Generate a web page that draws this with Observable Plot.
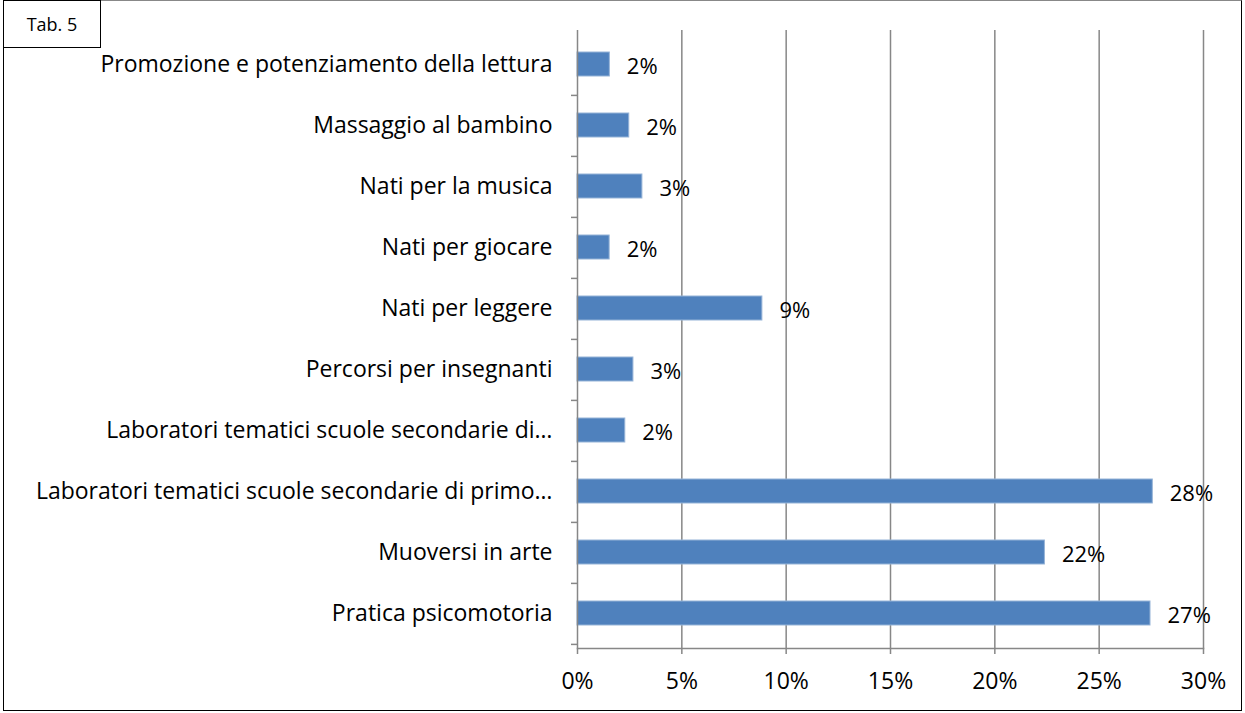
<!DOCTYPE html>
<html><head><meta charset="utf-8">
<script src="https://cdn.jsdelivr.net/npm/d3@7"></script>
<script src="https://cdn.jsdelivr.net/npm/@observablehq/plot@0.6"></script>
<style>
body{margin:0;background:#fff;}
#wrap{position:relative;width:1245px;height:713px;overflow:hidden;font-family:"Open Sans",sans-serif;}
#wrap svg{position:absolute;left:0;top:0;}
#border{position:absolute;left:3px;top:0;width:1237px;height:709px;border:1.5px solid #000;border-top-color:#888;}
#tab{position:absolute;left:3px;top:0;width:96px;height:46px;border:1.5px solid #000;font-size:18px;line-height:46px;text-align:center;background:#fff;}
</style></head>
<body>
<div id="wrap"><div id="border"></div><div id="chart"></div><div id="tab">Tab. 5</div></div>
<script>
const categories = [
  "Promozione e potenziamento della lettura",
  "Massaggio al bambino",
  "Nati per la musica",
  "Nati per giocare",
  "Nati per leggere",
  "Percorsi per insegnanti",
  "Laboratori tematici scuole secondarie di…",
  "Laboratori tematici scuole secondarie di primo…",
  "Muoversi in arte",
  "Pratica psicomotoria"
];
const values = [1.55, 2.48, 3.11, 1.54, 8.86, 2.68, 2.29, 27.57, 22.4, 27.46];
const valueLabels = ["2%", "2%", "3%", "2%", "9%", "3%", "2%", "28%", "22%", "27%"];
const xTicks = [0, 5, 10, 15, 20, 25, 30];

const data = categories.map((c, i) => ({category: c, value: values[i], label: valueLabels[i]}));
const grey = "#878787";
const step = (713 - 30 - 65) / categories.length;
const font = "'Open Sans', sans-serif";

const chart = Plot.plot({
  width: 1245, height: 713,
  marginLeft: 577, marginRight: 42, marginTop: 30, marginBottom: 65,
  style: {fontFamily: font, fontSize: "22px", color: "#000", background: "transparent"},
  x: {domain: [0, 30], label: null},
  y: {domain: categories, paddingInner: 0.6, paddingOuter: 0.3, label: null},
  marks: [
    Plot.gridX(xTicks.slice(1), {stroke: grey, strokeOpacity: 1, strokeWidth: 1.5}),
    Plot.barX(data, {x: "value", y: "category", fill: "#4f81bd", stroke: "#95b3d7", strokeWidth: 1}),
    Plot.text(data, {x: "value", y: "category", text: "label", textAnchor: "start", dx: 17, dy: 2, fontSize: 22, fill: "#000"}),
    Plot.ruleX([0], {stroke: grey, strokeWidth: 1.5}),
    Plot.frame({anchor: "bottom", stroke: grey, strokeWidth: 1.5}),
    Plot.axisX({ticks: xTicks, tickSize: 6, tickPadding: 18, tickFormat: d => d + "%", stroke: grey, strokeWidth: 1.5, fill: "#000", fontSize: 23, label: null}),
    Plot.axisY({tickSize: 0, tickPadding: 25, fill: "#000", fontSize: 23, label: null}),
    Plot.axisY({tickSize: 6, tickFormat: () => "", dy: step / 2, stroke: grey, strokeWidth: 1.5, label: null})
  ]
});
document.getElementById("chart").appendChild(chart);
</script>
</body></html>
